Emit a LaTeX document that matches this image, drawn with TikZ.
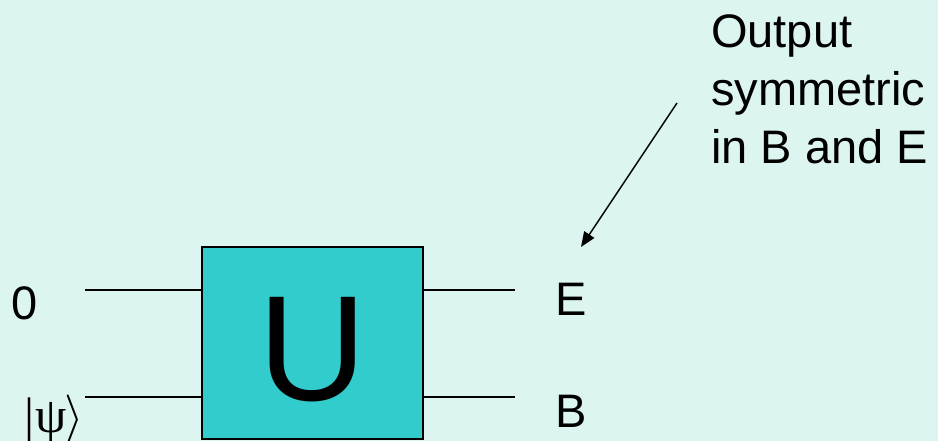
\documentclass[tikz,border=0pt]{standalone}
\usepackage{fix-cm}
\usepackage{fontspec}
\setmainfont{Liberation Sans}
\newfontfamily\serifpsi{Liberation Serif}
\usetikzlibrary{arrows.meta}
\definecolor{bgmint}{RGB}{221,245,240}
\definecolor{boxteal}{RGB}{51,204,204}
\begin{document}
\begin{tikzpicture}[x=1pt,y=-1pt,
  wire/.style={line width=1.4pt,black},
  lbl/.style={inner sep=0pt,anchor=base west,font=\fontsize{47}{52}\selectfont},
  gate/.style={draw=black,line width=1.3pt,fill=boxteal,minimum width=221pt,minimum height=192pt,inner sep=0pt}]
\fill[bgmint] (0,0) rectangle (938,441);
\useasboundingbox (0,0) rectangle (938,441);
\node[gate] (U) at (312.5,343) {};
\node[inner sep=0pt,anchor=base,font=\fontsize{150}{160}\selectfont] (Ulbl) at (313,400) {U};
\coordinate (inA) at (85,290);
\coordinate (inB) at (85,397);
\coordinate (outA) at (515,290);
\coordinate (outB) at (515,397);
\draw[wire] (inA) -- (U.west |- inA);
\draw[wire] (inB) -- (U.west |- inB);
\draw[wire] (U.east |- outA) -- (outA);
\draw[wire] (U.east |- outB) -- (outB);
\node[lbl] (zero) at (11,319) {0};
\node[lbl,font=\fontsize{50}{56}\selectfont] (psi) at (24,432) {\serifpsi|\kern1pt ψ\kern-2pt$\rangle$};
\node[lbl] (E) at (555,315) {E};
\node[lbl] (B) at (555,427) {B};
\node[inner sep=0pt,anchor=north west,align=left,font=\fontsize{47}{58}\selectfont] (note) at (711,14) {Output\\symmetric\\in B and E};
\coordinate (arrS) at (677,103);
\coordinate (arrE) at (581,247);
\draw[line width=1.4pt,-{Triangle[length=15pt,width=12pt]}] (arrS) -- (arrE);
\end{tikzpicture}
\end{document}
